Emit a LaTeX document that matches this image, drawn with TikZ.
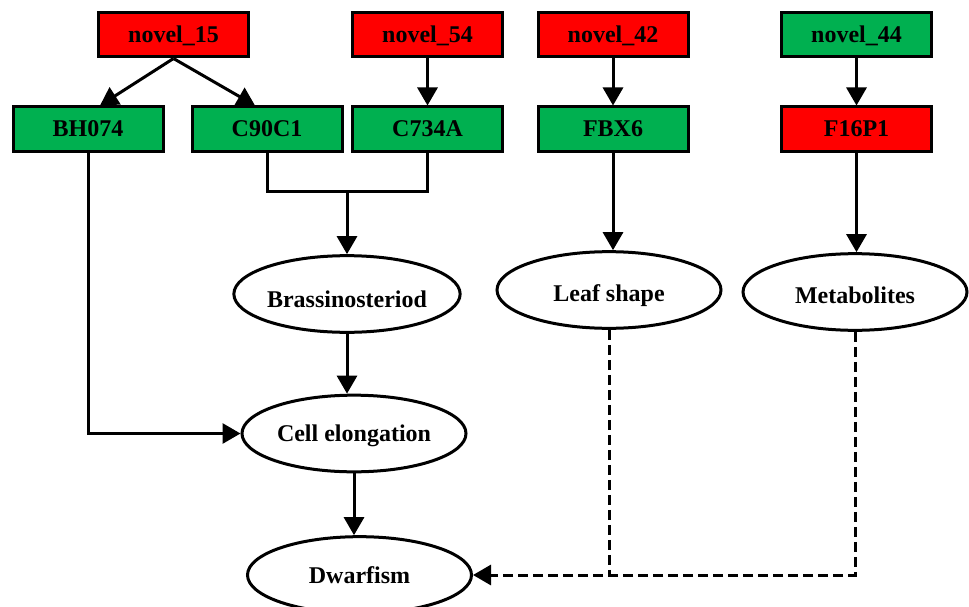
\documentclass[tikz,border=0pt]{standalone}
\usepackage{fontspec}
\setmainfont{Liberation Serif}
\usetikzlibrary{arrows.meta,shapes.geometric}
\definecolor{boxred}{HTML}{FF0000}
\definecolor{boxgreen}{HTML}{00B050}
\tikzset{
  gbox/.style={draw=black, line width=2.25pt, rectangle, minimum width=112.5pt, minimum height=33pt, inner sep=0pt, text height=12pt, text depth=0pt, font=\fontsize{18}{21}\selectfont\bfseries},
  redbox/.style={gbox, fill=boxred},
  greenbox/.style={gbox, fill=boxgreen},
  oval/.style={draw=black, line width=2.25pt, ellipse, minimum width=168pt, minimum height=57.5pt, inner sep=0pt, fill=white, text height=12pt, text depth=0pt, font=\fontsize{18}{21}\selectfont\bfseries},
  lowtext/.style={text height=16.5pt},
  lowertext/.style={text height=19.5pt},
  arr/.style={line width=2.25pt, -{Triangle[width=15pt,length=13.5pt]}},
  plain/.style={line width=2.25pt},
  dashline/.style={line width=2.25pt, dash pattern=on 7.5pt off 3.75pt}
}
\begin{document}
\begin{tikzpicture}[x=0.75pt,y=-0.75pt]
\useasboundingbox (0,0) rectangle (969,606);
% top row
\node[redbox] (n15) at (173.5,35) {novel\_15};
\node[redbox] (n54) at (427.5,35) {novel\_54};
\node[redbox] (n42) at (613,35) {novel\_42};
\node[greenbox] (n44) at (856.5,35) {novel\_44};
% second row
\node[greenbox] (bh) at (88,129) {BH074};
\node[greenbox] (c90) at (267,129) {C90C1};
\node[greenbox] (c734) at (427.5,129) {C734A};
\node[greenbox] (fbx) at (613,129) {FBX6};
\node[redbox] (f16) at (856.5,129) {F16P1};
% ellipses
\node[oval, lowertext] (bras) at (347,294) {Brassinosteriod};
\node[oval, lowtext] (leaf) at (609,290) {Leaf shape};
\node[oval, lowtext] (meta) at (855,292) {Metabolites};
\node[oval] (cell) at (354,433.5) {Cell elongation};
\node[oval] (dwarf) at (359.5,575) {Dwarfism};
% connectors
\draw[arr] (n15.south) -- ([xshift=9pt]bh.north);
\draw[arr] (n15.south) -- ([xshift=-9pt]c90.north);
\draw[arr] (n54.south) -- (c734.north);
\draw[arr] (n42.south) -- (fbx.north);
\draw[arr] (n44.south) -- (f16.north);
\coordinate (j) at (347,191);
\draw[plain] (c90.south) |- (j) -| (c734.south);
\draw[arr] (j) -- (bras.north);
\draw[arr] (fbx.south) -- (fbx.south |- leaf.north);
\draw[arr] (f16.south) -- (f16.south |- meta.north);
\draw[arr] (bras.south) -- (bras.south |- cell.north);
\draw[arr] (bh.south) |- (cell.west);
\draw[arr] (cell.south) -- (cell.south |- dwarf.north);
\draw[dashline] (leaf.south) -- (leaf.south |- dwarf.east);
\draw[dashline, -{Triangle[width=15pt,length=13.5pt]}] (meta.south) |- (dwarf.east);
\end{tikzpicture}
\end{document}
